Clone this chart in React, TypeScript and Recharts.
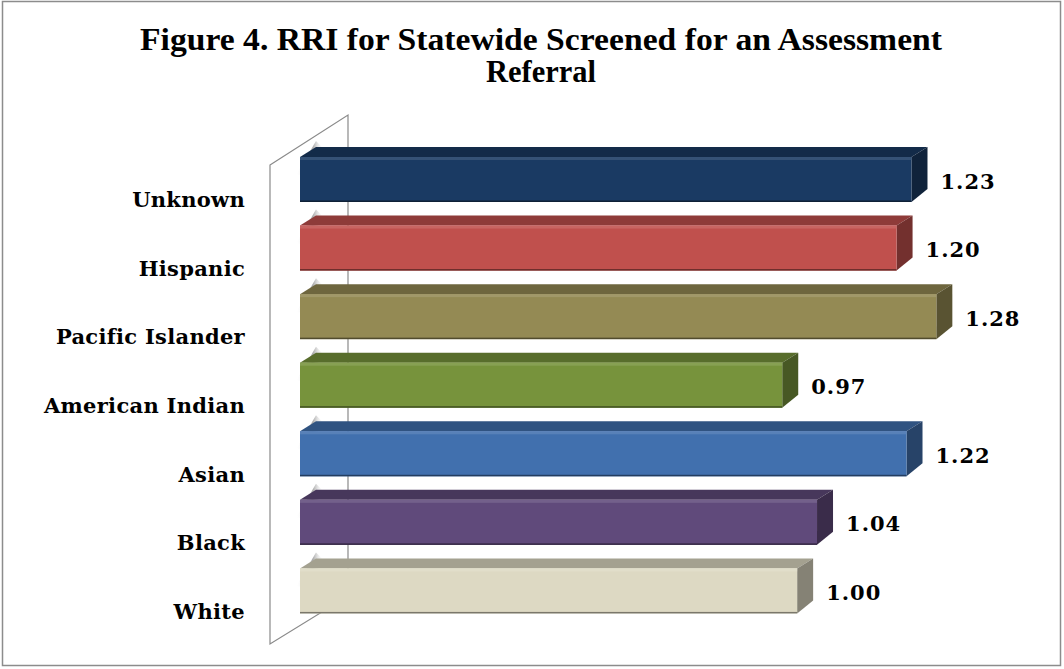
import React from "react";
import { BarChart, Bar, XAxis, YAxis, LabelList } from "recharts";

const categories = ["Unknown", "Hispanic", "Pacific Islander", "American Indian", "Asian", "Black", "White"];
const values = [1.23, 1.2, 1.28, 0.97, 1.22, 1.04, 1.0];
const valueLabels = ["1.23", "1.20", "1.28", "0.97", "1.22", "1.04", "1.00"];
const barColors = ["#1A3A63", "#C0504D", "#948A54", "#77933C", "#4170AE", "#604A7B", "#DDD9C3"];

const data = categories.map((name, i) => ({ name, value: values[i], label: valueLabels[i], color: barColors[i] }));

const W = 1064;
const H = 669;
const DX = 16;
const DY = 10;

function shade(hex: string, f: number): string {
  const n = parseInt(hex.slice(1), 16);
  const ch = (v: number) => {
    const r = f <= 1 ? v * f : v + (255 - v) * (f - 1);
    return Math.max(0, Math.min(255, Math.round(r)));
  };
  const r = ch((n >> 16) & 255);
  const g = ch((n >> 8) & 255);
  const b = ch(n & 255);
  return "#" + [r, g, b].map((v) => v.toString(16).padStart(2, "0")).join("");
}

const Bar3D = (props: any) => {
  const { x, y, width, height, payload, index } = props;
  const c = payload.color;
  const top = shade(c, 0.74);
  const side = shade(c, 0.6);
  const hi = shade(c, 1.12);
  const x2 = x + width;
  const gid = "shd" + index;
  return (
    <g>
      <defs>
        <linearGradient id={gid} x1="0" y1="0" x2="1" y2="0">
          <stop offset="0" stopColor="#ffffff" stopOpacity="0" />
          <stop offset="0.6" stopColor="#a8a8a8" stopOpacity="1" />
          <stop offset="1" stopColor="#ffffff" stopOpacity="0" />
        </linearGradient>
      </defs>
      <polygon
        points={`${x - 4},${y + 18} ${x + 6},${y + 18} ${x + DX + 8},${y - DY + 2} ${x + DX},${y - DY - 6}`}
        fill={`url(#${gid})`}
      />
      <polygon points={`${x},${y} ${x + DX},${y - DY} ${x2 + DX},${y - DY} ${x2},${y}`} fill={top} />
      <polygon
        points={`${x2},${y} ${x2 + DX},${y - DY} ${x2 + DX},${y + height - DY - 3} ${x2},${y + height}`}
        fill={side}
      />
      <rect x={x} y={y} width={width} height={height} fill={c} />
      <rect x={x} y={y} width={width} height={3} fill={hi} />
      <rect x={x} y={y + height - 1.5} width={width} height={1.5} fill={shade(c, 0.55)} />
    </g>
  );
};

const CatTick = (props: any) => {
  const { y, payload } = props;
  return (
    <text
      x={245}
      y={y + 28}
      textAnchor="end"
      fontFamily="'DejaVu Serif', serif"
      fontWeight="bold"
      fontSize={21}
      letterSpacing={0.3}
      fill="#000"
    >
      {payload.value}
    </text>
  );
};

const ValueLabel = (props: any) => {
  const { x, y, width, height, value } = props;
  return (
    <text
      x={x + width + 29}
      y={y + height / 2 + 9}
      fontFamily="'DejaVu Serif', serif"
      fontWeight="bold"
      fontSize={21}
      letterSpacing={1}
      fill="#000"
    >
      {value}
    </text>
  );
};

export default function App() {
  return (
    <div style={{ position: "absolute", left: 0, top: 0, width: W, height: H, background: "#fff" }}>
      <svg width={W} height={H} style={{ position: "absolute", left: 0, top: 0 }}>
        <rect x={2.5} y={1.5} width={1058} height={664} fill="#fff" stroke="#8c8c8c" strokeWidth={1.5} />
        <text
          x={541}
          y={50}
          textAnchor="middle"
          fontFamily="'Liberation Serif', serif"
          fontWeight="bold"
          fontSize={31}
          textLength={802}
          lengthAdjust="spacingAndGlyphs"
          fill="#000"
        >
          Figure 4. RRI for Statewide Screened for an Assessment
        </text>
        <text
          x={541}
          y={82}
          textAnchor="middle"
          fontFamily="'Liberation Serif', serif"
          fontWeight="bold"
          fontSize={31}
          textLength={110}
          lengthAdjust="spacingAndGlyphs"
          fill="#000"
        >
          Referral
        </text>
        <polygon points="270,165 348,115 348,596 270,644" fill="#fff" stroke="#8a8a8a" strokeWidth={1.2} />
      </svg>
      <div style={{ position: "absolute", left: 0, top: 0 }}>
        <BarChart
          width={W}
          height={H}
          data={data}
          layout="vertical"
          margin={{ top: 145, right: 68, bottom: 44, left: 0 }}
        >
          <XAxis type="number" domain={[0, 1.4]} hide />
          <YAxis
            type="category"
            dataKey="name"
            width={300}
            axisLine={false}
            tickLine={false}
            tick={<CatTick />}
            interval={0}
          />
          <Bar dataKey="value" barSize={45} isAnimationActive={false} shape={<Bar3D />}>
            <LabelList dataKey="label" content={<ValueLabel />} />
          </Bar>
        </BarChart>
      </div>
    </div>
  );
}
